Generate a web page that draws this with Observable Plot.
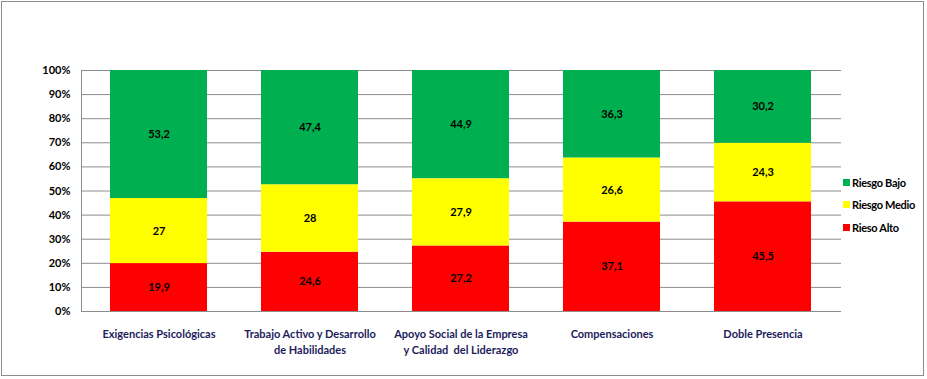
<!DOCTYPE html>
<html>
<head>
<meta charset="utf-8">
<script src="https://cdn.jsdelivr.net/npm/d3@7"></script>
<script src="https://cdn.jsdelivr.net/npm/@observablehq/plot@0.6"></script>
<style>
  html, body { margin: 0; padding: 0; background: #fff; }
  #wrap { position: relative; width: 927px; height: 379px; overflow: hidden; font-family: Lato, "Open Sans", sans-serif; }
  #border { position: absolute; left: 1px; top: 1px; width: 923px; height: 375px; border: 1px solid #8c8c8c; box-sizing: border-box; pointer-events: none; }
  #legend { position: absolute; left: 843px; top: 171px; font-size: 11px; font-weight: bold; color: #000; }
  .li { display: flex; align-items: center; height: 22.5px; white-space: nowrap; letter-spacing: -0.3px; }
  .sw { width: 7px; height: 7px; margin-right: 2px; }
  svg { position: absolute; left: 0; top: 0; }
</style>
</head>
<body>
<div id="wrap"><div id="border"></div><div id="legend"></div></div>
<script>
const categories = [
  "Exigencias Psicológicas",
  "Trabajo Activo y Desarrollo\nde Habilidades",
  "Apoyo Social de la Empresa\ny Calidad  del Liderazgo",
  "Compensaciones",
  "Doble Presencia"
];
const series = ["Rieso Alto", "Riesgo Medio", "Riesgo Bajo"];
const colors = ["#ff0000", "#ffff00", "#00b050"];
const riesgoAlto  = [19.9, 24.6, 27.2, 37.1, 45.5];
const riesgoMedio = [27, 28, 27.9, 26.6, 24.3];
const riesgoBajo  = [53.2, 47.4, 44.9, 36.3, 30.2];
const yTicks = [0, 0.1, 0.2, 0.3, 0.4, 0.5, 0.6, 0.7, 0.8, 0.9, 1];

const seriesValues = [riesgoAlto, riesgoMedio, riesgoBajo];
const data = [];
series.forEach((s, si) => categories.forEach((c, ci) => data.push({category: c, series: s, value: seriesValues[si][ci]})));

const fmt = v => String(v).replace(".", ",");

const chart = Plot.plot({
  width: 927,
  height: 379,
  marginLeft: 81,
  marginRight: 86,
  marginTop: 70,
  marginBottom: 68,
  style: {fontFamily: "Lato, 'Open Sans', sans-serif", fontSize: "11px", background: "transparent", overflow: "visible"},
  x: {domain: categories, paddingInner: 0.355, paddingOuter: 0.178, label: null},
  y: {domain: [0, 1], label: null},
  color: {domain: series, range: colors},
  marks: [
    Plot.gridY(yTicks, {stroke: "#8c8c8c", strokeOpacity: 1, strokeWidth: 1}),
    Plot.frame({anchor: "left", stroke: "#8c8c8c", strokeOpacity: 1}),
    Plot.barY(data, Plot.stackY({x: "category", y: "value", fill: "series", offset: "normalize"})),
    Plot.text(data, Plot.stackY({x: "category", y: "value", z: "series", offset: "normalize", text: d => fmt(d.value), fill: "#000", fontWeight: "bold", fontSize: 11})),
    Plot.axisY({ticks: yTicks, tickFormat: d3.format(".0%"), tickSize: 0, tickPadding: 11, fontWeight: "bold", fill: "#000", fontSize: 11, label: null}),
    Plot.axisX({tickSize: 0, tickPadding: 16, fontWeight: "bold", fill: "#1c1c5c", fontSize: 11, label: null, lineHeight: 1.4})
  ]
});
document.getElementById("wrap").insertBefore(chart, document.getElementById("border"));

const legend = document.getElementById("legend");
[...series].reverse().forEach(s => {
  const i = series.indexOf(s);
  const row = document.createElement("div");
  row.className = "li";
  row.innerHTML = `<div class="sw" style="background:${colors[i]}"></div><span>${s}</span>`;
  legend.appendChild(row);
});
</script>
</body>
</html>
